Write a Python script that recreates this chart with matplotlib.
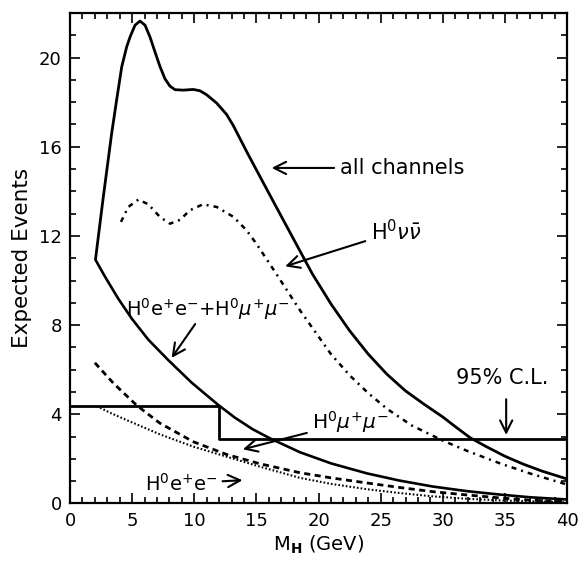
import numpy as np
import matplotlib
matplotlib.use('Agg')
from matplotlib import pyplot as plt

plt.rcParams['font.family'] = ['DejaVu Sans']
plt.rcParams['mathtext.fontset'] = 'dejavusans'

# all channels
all_x = [2.06, 2.68, 3.35, 3.75, 4.16, 4.56, 4.83, 5.23, 5.63, 6.04, 6.44, 6.84, 7.24,
         7.64, 8.04, 8.45, 9.12, 9.92, 10.46, 11.0, 11.8, 12.6, 13.14, 14.2, 15.3, 16.5,
         18.0, 19.5, 21.0, 22.5, 24.0, 25.5, 27.0, 28.5, 30.0, 31.0, 32.2, 33.5, 35.0,
         36.5, 38.0, 40.0]
all_y = [10.99, 13.75, 16.59, 18.09, 19.58, 20.48, 20.92, 21.45, 21.64, 21.45, 20.92,
         20.25, 19.6, 19.05, 18.72, 18.56, 18.54, 18.57, 18.51, 18.33, 17.96, 17.45,
         16.95, 15.8, 14.65, 13.4, 11.85, 10.3, 8.95, 7.75, 6.7, 5.8, 5.05, 4.45, 3.88,
         3.45, 2.95, 2.55, 2.12, 1.76, 1.45, 1.1]

# H0 nu nubar
nn_x = [4.1, 4.69, 5.5, 6.3, 7.24, 8.05, 8.85, 9.65, 10.7, 11.8, 13.14, 14.2, 15.0, 16.6,
        18.5, 21.0, 22.5, 24.0, 25.5, 27.5, 30.0, 32.0, 34.6, 37.0, 40.0]
nn_y = [12.63, 13.3, 13.63, 13.42, 12.85, 12.55, 12.72, 13.15, 13.42, 13.3, 12.86, 12.26,
        11.65, 10.3, 8.67, 6.7, 5.75, 4.95, 4.25, 3.5, 2.82, 2.35, 1.8, 1.35, 0.85]

# H0 e+e- + H0 mu+mu-
ll_x = [2.07, 2.82, 3.89, 4.96, 6.3, 7.91, 9.79, 11.93, 13.27, 14.7, 16.1, 18.5, 21.0,
        23.9, 26.5, 29.2, 32.0, 34.6, 37.0, 40.0]
ll_y = [10.91, 10.17, 9.18, 8.3, 7.35, 6.43, 5.42, 4.42, 3.85, 3.33, 2.92, 2.3, 1.8,
        1.35, 1.03, 0.76, 0.55, 0.4, 0.28, 0.18]

# H0 mu+mu-
mm_x = [2.0, 3.5, 5.37, 7.24, 9.92, 12.6, 15.3, 18.5, 21.0, 23.9, 26.5, 29.2, 32.0, 34.6,
        37.0, 40.0]
mm_y = [6.31, 5.39, 4.4, 3.6, 2.77, 2.2, 1.78, 1.38, 1.15, 0.92, 0.72, 0.53, 0.38, 0.25,
        0.15, 0.08]

# H0 e+e-
ee_x = [2.15, 3.3, 4.56, 7.24, 9.92, 12.6, 15.3, 18.5, 21.0, 23.9, 26.5, 29.2, 32.0, 35.0,
        40.0]
ee_y = [4.37, 4.05, 3.74, 3.1, 2.55, 2.1, 1.65, 1.15, 0.88, 0.64, 0.47, 0.32, 0.21, 0.13,
        0.05]

# 95% C.L. limit
cl_x = [0, 12, 40]
cl_y = [4.38, 2.88, 2.88]

fig = plt.figure(figsize=(5.8, 5.62), dpi=100)
ax = fig.add_axes([0.1207, 0.1041, 0.857, 0.8728])

ax.plot(all_x, all_y, color='k', lw=2.0, solid_joinstyle='round')
ax.plot(nn_x, nn_y, color='k', lw=1.8, linestyle=(0, (2.0, 2.0, 0.8, 2.0)))
ax.plot(ll_x, ll_y, color='k', lw=1.9, solid_joinstyle='round')
ax.plot(mm_x, mm_y, color='k', lw=2.0, linestyle=(0, (2.2, 1.6)))
ax.plot(ee_x, ee_y, color='k', lw=1.5, linestyle=(0, (0.8, 1.0)))
ax.plot(cl_x, cl_y, color='k', lw=2.0, drawstyle='steps-post')

ax.set_xlim(0, 40)
ax.set_ylim(0, 22)
ax.set_xticks(np.arange(0, 41, 5))
ax.set_xticks(np.arange(0, 41, 1), minor=True)
ax.set_yticks(np.arange(0, 21, 4))
ax.set_yticks(np.arange(0, 23, 1), minor=True)
ax.tick_params(which='both', direction='in', top=True, right=True, width=1.2,
               labelsize=13, pad=6)
ax.tick_params(which='major', length=7)
ax.tick_params(which='minor', length=4)
for s in ax.spines.values():
    s.set_linewidth(1.6)

ax.set_xlabel(r'M$_\mathbf{H}$ (GeV)', fontsize=14, labelpad=3)
ax.set_ylabel('Expected Events', fontsize=15.5, labelpad=5)

arr = dict(arrowstyle='->', color='k', lw=1.5, mutation_scale=22)
fs = 15
ax.annotate('all channels', xy=(16.0, 15.05), xytext=(21.7, 15.05), fontsize=fs,
            va='center', ha='left', arrowprops=arr)
ax.annotate(r'H$^{0}\nu\bar{\nu}$', xy=(17.1, 10.6), xytext=(24.2, 12.2),
            fontsize=fs, va='center', ha='left', arrowprops=arr)
ax.text(4.5, 8.74, r'H$^{0}$e$^{+}$e$^{-}$+H$^{0}\mu^{+}\mu^{-}$', fontsize=14,
        va='center', ha='left')
ax.annotate('', xy=(8.05, 6.43), xytext=(10.2, 8.15), arrowprops=arr)
ax.annotate(r'H$^{0}\mu^{+}\mu^{-}$', xy=(13.7, 2.4), xytext=(19.5, 3.67),
            fontsize=14.5, va='center', ha='left', arrowprops=arr)
ax.annotate(r'H$^{0}$e$^{+}$e$^{-}$', xy=(14.1, 1.05), xytext=(6.0, 0.9),
            fontsize=14, va='center', ha='left', arrowprops=arr)
ax.text(31.1, 5.63, '95% C.L.', fontsize=fs, va='center', ha='left')
ax.annotate('', xy=(35.1, 2.95), xytext=(35.1, 4.8), arrowprops=arr)

fig.savefig('out.png', dpi=100)
